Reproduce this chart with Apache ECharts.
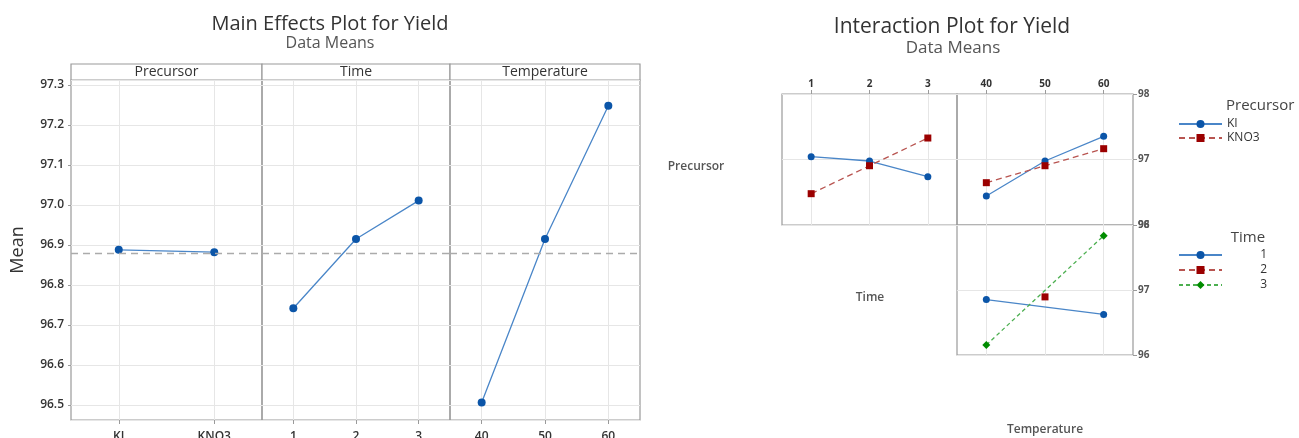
<!DOCTYPE html>
<html>
<head>
<meta charset="utf-8">
<script src="https://cdn.jsdelivr.net/npm/echarts@6.0.0/dist/echarts.min.js"></script>
<style>
html,body{margin:0;padding:0;background:#fff;}
#chart{width:1299px;height:438px;}
</style>
</head>
<body>
<div id="chart"></div>
<script>
// ---- data ----
const precursorLevels = ['KI', 'KNO3'];
const timeLevels = ['1', '2', '3'];
const tempLevels = ['40', '50', '60'];

const mainPrecursor = [96.888, 96.882];
const mainTime = [96.742, 96.915, 97.011];
const mainTemp = [96.506, 96.915, 97.248];
const grandMean = 96.884;

const intKI_Time = [97.043, 96.977, 96.737];
const intKNO3_Time = [96.478, 96.905, 97.328];
const intKI_Temp = [96.443, 96.977, 97.354];
const intKNO3_Temp = [96.646, 96.905, 97.165];
const intT1_Temp = [96.853, null, 96.625];
const intT2_Temp = [null, 96.894, null];
const intT3_Temp = [96.155, null, 97.834];

// ---- styling ----
const FONT = '"Open Sans", "Noto Sans", sans-serif';
const frameColor = '#9a9a9a';
const gridColor = '#e6e6e6';
const blueLine = '#4a86c8', blueMark = '#0b55a8';
const redLine = '#b85450', redMark = '#9b0000';
const greenLine = '#4caf50', greenMark = '#008c00';

const gridBase = {show: true, borderColor: frameColor, borderWidth: 1.2, backgroundColor: 'transparent', containLabel: false, outerBoundsMode: 'none'};

function catX(gridIndex, data, opts) {
  return Object.assign({
    gridIndex, type: 'category', data, boundaryGap: true,
    axisLine: {show: false},
    axisTick: {show: true, alignWithLabel: true, length: 4, lineStyle: {color: frameColor}},
    axisLabel: {show: true, fontFamily: FONT, fontSize: 12, fontWeight: 600, color: '#333', margin: 11},
    splitLine: {show: true, alignWithLabel: true, lineStyle: {color: gridColor, width: 1}}
  }, opts || {});
}

const mainY = (gi, showLabels) => ({
  gridIndex: gi, type: 'value', min: 96.4625, max: 97.3125,
  splitNumber: 8, minInterval: 0.1, maxInterval: 0.1,
  axisLine: {show: false},
  axisTick: {show: showLabels, length: 3, lineStyle: {color: frameColor}},
  axisLabel: {show: showLabels, showMinLabel: false, showMaxLabel: false, fontFamily: FONT, fontSize: 12, fontWeight: 600, color: '#333', margin: 7,
    formatter: v => v.toFixed(1)},
  splitLine: {show: true, lineStyle: {color: gridColor, width: 1}}
});

const intY = (gi, showLabels) => ({
  gridIndex: gi, type: 'value', min: 96, max: 98, interval: 1,
  position: 'right',
  axisLine: {show: false},
  axisTick: {show: showLabels, length: 4, lineStyle: {color: frameColor}},
  axisLabel: {show: showLabels, fontFamily: FONT, fontSize: 10, fontWeight: 'bold', color: '#555', margin: 5},
  splitLine: {show: true, lineStyle: {color: gridColor, width: 1}}
});

const meanLine = {
  silent: true, symbol: 'none', label: {show: false},
  lineStyle: {type: [7, 5], color: '#ababab', width: 1.3},
  data: [{yAxis: grandMean}]
};

function mainSeries(name, xi, data) {
  return {
    name, type: 'line', xAxisIndex: xi, yAxisIndex: xi, data,
    symbol: 'circle', symbolSize: 8,
    lineStyle: {color: blueLine, width: 1.3},
    itemStyle: {color: blueMark},
    markLine: meanLine, z: 3, animation: false
  };
}

function intSeries(name, xi, data, kind) {
  const k = {
    blue: {line: blueLine, mark: blueMark, sym: 'circle', size: 7, type: 'solid'},
    red: {line: redLine, mark: redMark, sym: 'rect', size: 7, type: [6, 4]},
    green: {line: greenLine, mark: greenMark, sym: 'diamond', size: 8, type: [4, 3]}
  }[kind];
  return {
    name, type: 'line', xAxisIndex: xi, yAxisIndex: xi, data,
    connectNulls: true,
    symbol: k.sym, symbolSize: k.size,
    lineStyle: {color: k.line, width: 1.3, type: k.type},
    itemStyle: {color: k.mark},
    z: 3, animation: false
  };
}

function txt(text, x, y, size, color, weight, extra, align) {
  const a = align || 'center';
  return Object.assign({
    type: 'text', x, y, silent: true,
    style: {text, fill: color, font: (weight || 'normal') + ' ' + size + 'px ' + FONT,
      align: a, verticalAlign: 'middle', textAlign: a, textVerticalAlign: 'middle'}
  }, extra || {});
}
function strip(x, w, label) {
  return [
    {type: 'rect', shape: {x, y: 64, width: w, height: 16}, style: {fill: '#fff', stroke: frameColor, lineWidth: 1.2}, silent: true},
    txt(label, x + w / 2, 72, 14, '#333', 'normal')
  ];
}

const option = {
  backgroundColor: '#fff',
  animation: false,
  grid: [
    Object.assign({left: 71, top: 80, width: 191, height: 340}, gridBase),
    Object.assign({left: 262, top: 80, width: 188, height: 340}, gridBase),
    Object.assign({left: 450, top: 80, width: 190, height: 340}, gridBase),
    Object.assign({left: 782, top: 94, width: 175, height: 131}, gridBase),
    Object.assign({left: 957, top: 94, width: 176, height: 131}, gridBase),
    Object.assign({left: 957, top: 225, width: 176, height: 130}, gridBase)
  ],
  xAxis: [
    catX(0, precursorLevels),
    catX(1, timeLevels),
    catX(2, tempLevels),
    catX(3, timeLevels, {position: 'top', axisLabel: {fontFamily: FONT, fontSize: 10, fontWeight: 'bold', color: '#333', margin: 5}}),
    catX(4, tempLevels, {position: 'top', axisLabel: {fontFamily: FONT, fontSize: 10, fontWeight: 'bold', color: '#333', margin: 5}}),
    catX(5, tempLevels, {axisLabel: {show: false}, axisTick: {show: false}})
  ],
  yAxis: [
    mainY(0, true), mainY(1, false), mainY(2, false),
    Object.assign(intY(3, false), {position: 'left'}), intY(4, true), intY(5, true)
  ],
  legend: [
    {
      orient: 'vertical', left: 1173, top: 113, itemWidth: 43, itemHeight: 10, itemGap: 2,
      data: ['KI', 'KNO3'],
      formatter: '{p|{name}}',
      textStyle: {fontFamily: FONT, fontSize: 12, color: '#333', rich: {p: {fontFamily: FONT, fontSize: 12, color: '#333'}}},
      selectedMode: false
    },
    {
      orient: 'vertical', left: 1173, top: 244, itemWidth: 43, itemHeight: 10, itemGap: 3,
      data: ['1', '2', '3'],
      formatter: '{t|{name}}',
      textStyle: {fontFamily: FONT, fontSize: 12, color: '#333', rich: {t: {fontFamily: FONT, fontSize: 12, color: '#333', width: 40, align: 'right'}}},
      selectedMode: false
    }
  ],
  series: [
    mainSeries('Precursor effect', 0, mainPrecursor),
    mainSeries('Time effect', 1, mainTime),
    mainSeries('Temperature effect', 2, mainTemp),
    intSeries('KI', 3, intKI_Time, 'blue'),
    intSeries('KNO3', 3, intKNO3_Time, 'red'),
    intSeries('KI', 4, intKI_Temp, 'blue'),
    intSeries('KNO3', 4, intKNO3_Temp, 'red'),
    intSeries('1', 5, intT1_Temp, 'blue'),
    intSeries('2', 5, intT2_Temp, 'red'),
    intSeries('3', 5, intT3_Temp, 'green')
  ],
  graphic: [
    txt('Main Effects Plot for Yield', 330, 24, 20, '#333', 500),
    txt('Data Means', 330, 43, 16, '#555', 500),
    txt('Interaction Plot for Yield', 952, 27, 21, '#333', 500),
    txt('Data Means', 953, 48, 17, '#555', 500),
    txt('Mean', 18, 250, 18, '#333', 'normal', {rotation: Math.PI / 2}),
    ...strip(71, 191, 'Precursor'),
    ...strip(262, 188, 'Time'),
    ...strip(450, 190, 'Temperature'),
    txt('Precursor', 696, 167, 12, '#555', 600),
    txt('Time', 870, 298, 12, '#555', 600),
    txt('Temperature', 1045, 430, 12, '#555', 600),
    txt('Precursor', 1226, 106, 15, '#444', 'normal', null, 'left'),
    txt('Time', 1248, 238, 15, '#444', 'normal')
  ]
};

const chart = echarts.init(document.getElementById('chart'), null, {renderer: 'canvas', width: 1299, height: 438});
chart.setOption(option);
</script>
</body>
</html>
